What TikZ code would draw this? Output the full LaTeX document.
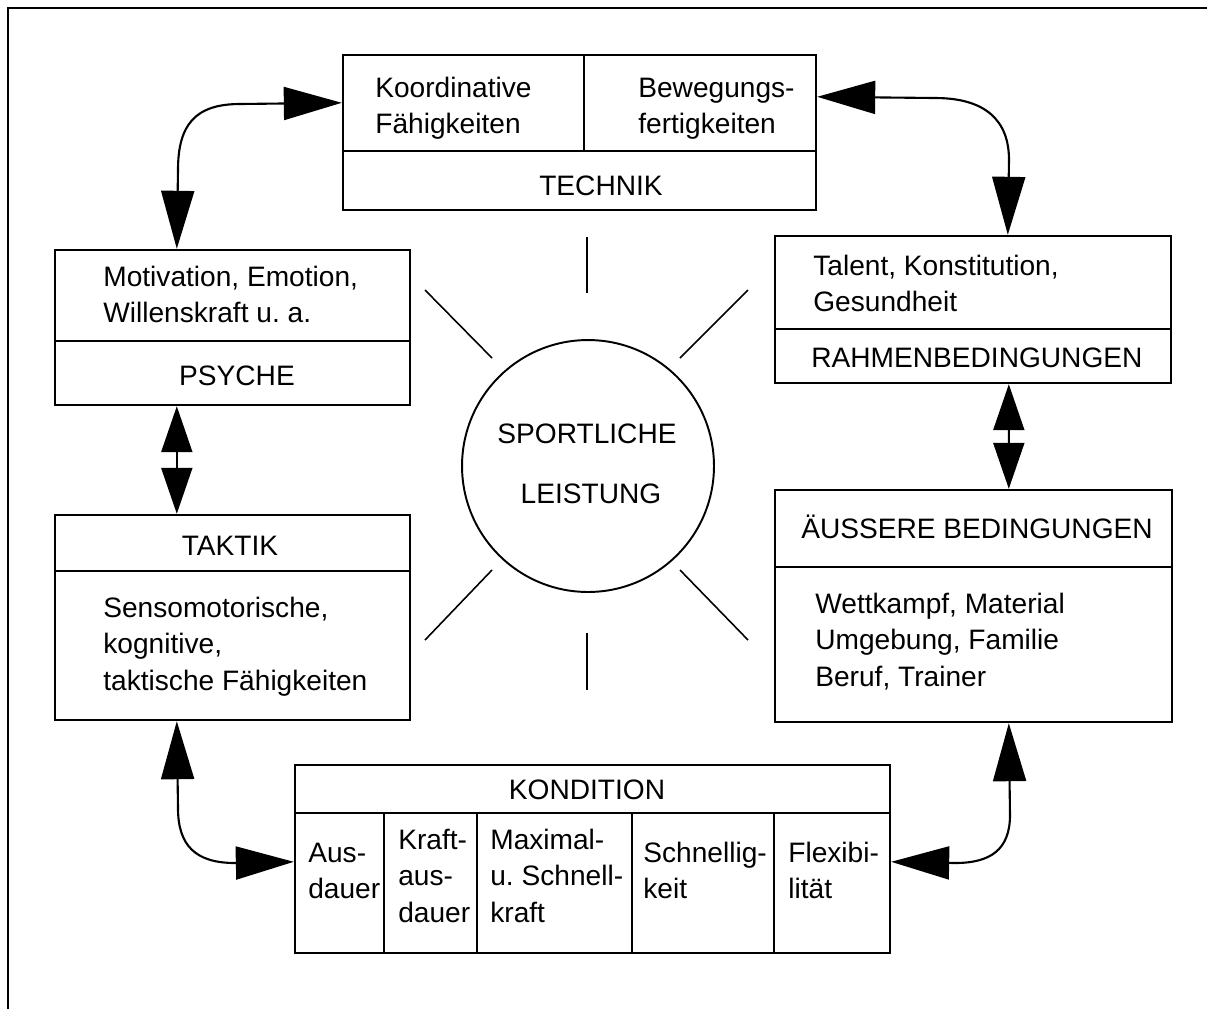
\documentclass[tikz,border=0pt]{standalone}
\usepackage{fontspec}
\setmainfont{Liberation Sans}
\usetikzlibrary{arrows.meta,calc}
\frenchspacing
% left-aligned block of lines whose reference point is the first baseline
\newcommand\txtblock[1]{\begin{tabular}[t]{@{}l@{}}#1\end{tabular}}
\tikzset{
  Big/.tip={Triangle[length=1.16cm,width=0.66cm]},
  Mid/.tip={Triangle[length=0.92cm,width=0.62cm]},
  box/.style={draw,line width=1.4pt,inner sep=0pt},
  sep/.style={line width=1.4pt},
  lbl/.style={anchor=base west,inner sep=0pt},
  ttl/.style={anchor=base,inner sep=0pt},
  ray/.style={line width=0.9pt},
  link/.style={line width=1.2pt},
}
\begin{document}
\begin{tikzpicture}[x=0.02cm,y=-0.02cm,
  every node/.append style={font=\fontsize{16}{21}\selectfont}]
\useasboundingbox (0,0) rectangle (1207,1009);
% frame
\draw[line width=1.4pt] (1207,8) -- (8,8) -- (8,1009);

% ---- boxes ----
\node[box,minimum width=9.46cm,minimum height=3.1cm] (tech) at (579.5,132.5) {};
\draw[sep] ($(tech.north west)+(0,97)$) -- ($(tech.north east)+(0,97)$);
\draw[sep] ($(tech.north west)+(242,0)$) -- ($(tech.north west)+(242,97)$);

\node[box,minimum width=7.1cm,minimum height=3.1cm] (psy) at (232.5,327.5) {};
\draw[sep] ($(psy.north west)+(0,92)$) -- ($(psy.north east)+(0,92)$);

\node[box,minimum width=7.1cm,minimum height=4.1cm] (tak) at (232.5,617.5) {};
\draw[sep] ($(tak.north west)+(0,57)$) -- ($(tak.north east)+(0,57)$);

\node[box,minimum width=7.92cm,minimum height=2.94cm] (rahm) at (973,309.5) {};
\draw[sep] ($(rahm.north west)+(0,94)$) -- ($(rahm.north east)+(0,94)$);

\node[box,minimum width=7.94cm,minimum height=4.64cm] (auss) at (973.5,606) {};
\draw[sep] ($(auss.north west)+(0,78)$) -- ($(auss.north east)+(0,78)$);

\node[box,minimum width=11.9cm,minimum height=3.76cm] (kond) at (592.5,859) {};
\draw[sep] ($(kond.north west)+(0,49)$) -- ($(kond.north east)+(0,49)$);
\foreach \cx in {90,183,338,480}
  \draw[sep] ($(kond.north west)+(\cx,49)$) -- ($(kond.south west)+(\cx,0)$);

% ---- centre ----
\node[draw,circle,line width=1.1pt,minimum size=5.04cm,inner sep=0pt] (core) at (588,466) {};
\node[ttl] (core1) at (587,443) {SPORTLICHE};
\node[ttl] (core2) at (591,503) {LEISTUNG};
\draw[ray] (587,237) -- (587,293);
\draw[ray] (587,633) -- (587,690);
\draw[ray] (425,290) -- (492,358);
\draw[ray] (748,290) -- (680,358);
\draw[ray] (425,640) -- (492,570);
\draw[ray] (748,640) -- (680,570);

% ---- texts ----
\node[lbl] (tx1) at (375,97) {\txtblock{Koordinative\\Fähigkeiten}};
\node[lbl] (tx2) at (638,97) {\txtblock{Bewegungs-\\fertigkeiten}};
\node[ttl] (tx3) at (601,195) {TECHNIK};

\node[lbl] (px1) at (103,286) {\txtblock{Motivation, Emotion,\\Willenskraft u. a.}};
\node[ttl] (px2) at (237,385) {PSYCHE};

\node[ttl] (kx1) at (230,555) {TAKTIK};
\node[lbl] (kx2) at (103,617) {\txtblock{Sensomotorische,\\kognitive,\\taktische Fähigkeiten}};

\node[lbl] (rx1) at (813,275) {\txtblock{Talent, Konstitution,\\Gesundheit}};
\node[lbl] (rx2) at (811,367) {RAHMENBEDINGUNGEN};

\node[ttl] (ax1) at (977,538) {ÄUSSERE BEDINGUNGEN};
\node[lbl] (ax2) at (815,613) {\txtblock{Wettkampf, Material\\Umgebung, Familie\\Beruf, Trainer}};

\node[ttl] (dx0) at (587,799) {KONDITION};
\node[lbl] (dx1) at (308,862) {\txtblock{Aus-\\dauer}};
\node[lbl] (dx2) at (398,849) {\txtblock{Kraft-\\aus-\\dauer}};
\node[lbl] (dx3) at (490,849) {\txtblock{Maximal-\\u. Schnell-\\kraft}};
\node[lbl] (dx4) at (643,862) {\txtblock{Schnellig-\\keit}};
\node[lbl] (dx5) at (788,862) {\txtblock{Flexibi-\\lität}};

% ---- connectors ----
\draw[link,Big-Big] ($(psy.north west)+(123,0)$) -- (178,170)
  .. controls (178,125) and (195,104) .. (240,104) -- ($(tech.north west)+(0,49)$);
\draw[link,Big-Big] ($(tech.north east)+(0,43)$) -- (935,98)
  .. controls (985,98) and (1009,120) .. (1009,160) -- ($(rahm.north west)+(234,0)$);
\draw[link,Mid-Mid] ($(psy.south west)+(123,0)$) -- ($(tak.north west)+(123,0)$);
\draw[link,Mid-Mid] ($(rahm.south west)+(235,0)$) -- ($(auss.north west)+(235,0)$);
\draw[link,Big-Big] ($(tak.south west)+(123,0)$) -- (178,808)
  .. controls (178,845) and (195,863) .. (235,863) -- ($(kond.north west)+(0,98)$);
\draw[link,Big-Big] ($(auss.south west)+(235,0)$) -- (1010,815)
  .. controls (1010,850) and (990,863) .. (955,863) -- ($(kond.north east)+(0,98)$);
\end{tikzpicture}
\end{document}
